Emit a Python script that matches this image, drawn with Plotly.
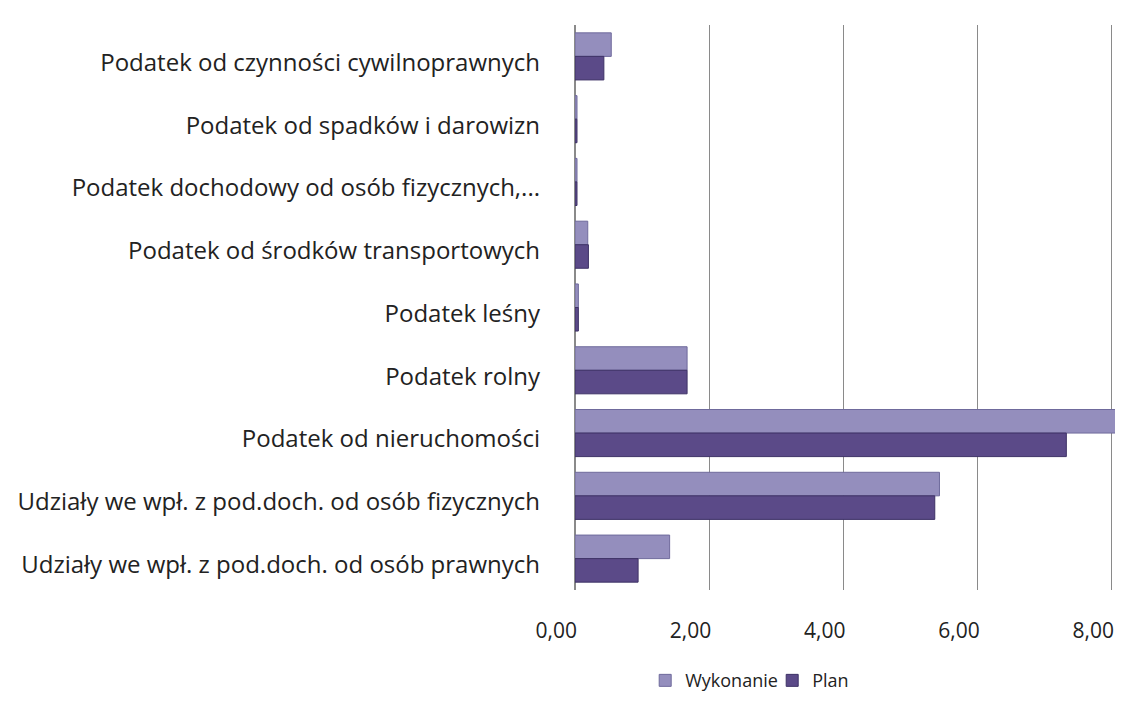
import plotly.graph_objects as go

kategorie = [
    "Podatek od czynności cywilnoprawnych",
    "Podatek od spadków i darowizn",
    "Podatek dochodowy od osób fizycznych,...",
    "Podatek od środków transportowych",
    "Podatek leśny",
    "Podatek rolny",
    "Podatek od nieruchomości",
    "Udziały we wpł. z pod.doch. od osób fizycznych",
    "Udziały we wpł. z pod.doch. od osób prawnych",
]
wykonanie = [0.54, 0.03, 0.03, 0.19, 0.05, 1.67, 8.2, 5.43, 1.41]
plan = [0.43, 0.03, 0.03, 0.2, 0.05, 1.67, 7.32, 5.36, 0.94]
x_ticks = [0, 2, 4, 6, 8]
x_tick_labels = ["0,00", "2,00", "4,00", "6,00", "8,00"]

fig = go.Figure()
fig.add_trace(go.Bar(
    y=kategorie, x=wykonanie, orientation="h", name="Wykonanie",
    marker=dict(color="#948ebd", line=dict(color="#6f6a9c", width=1)),
))
fig.add_trace(go.Bar(
    y=kategorie, x=plan, orientation="h", name="Plan",
    marker=dict(color="#5b4a88", line=dict(color="#3e3266", width=1)),
))

# strona ma 8px marginesu body, więc figura jest mniejsza od okna
fig.update_layout(
    width=1107, height=685,
    barmode="group", bargap=0.25, bargroupgap=0.0,
    plot_bgcolor="white", paper_bgcolor="white",
    font=dict(family="Open Sans", size=17, color="#222"),
    margin=dict(l=567, r=0, t=17, b=103),
    xaxis=dict(
        range=[0, 8.045], tickvals=x_ticks, ticktext=x_tick_labels,
        showgrid=True, gridcolor="#8a8a8a", gridwidth=1,
        zeroline=True, zerolinecolor="#8a8a8a", zerolinewidth=2,
        showline=False, ticks="", ticklabelstandoff=26,
        ticklabelposition="outside left", ticklabelshift=2,
        tickfont=dict(size=21), automargin=False,
    ),
    yaxis=dict(
        autorange="reversed", showgrid=False, showline=False,
        ticks="", ticklabelstandoff=34, ticklabelshift=-6,
        tickfont=dict(size=24), automargin=False,
    ),
    legend=dict(
        orientation="h", x=0.13, xanchor="left",
        yref="container", y=0.018, yanchor="middle",
        font=dict(size=18), itemwidth=30,
        entrywidth=82, entrywidthmode="pixels",
    ),
    showlegend=True,
)

fig.write_html("out.html")
